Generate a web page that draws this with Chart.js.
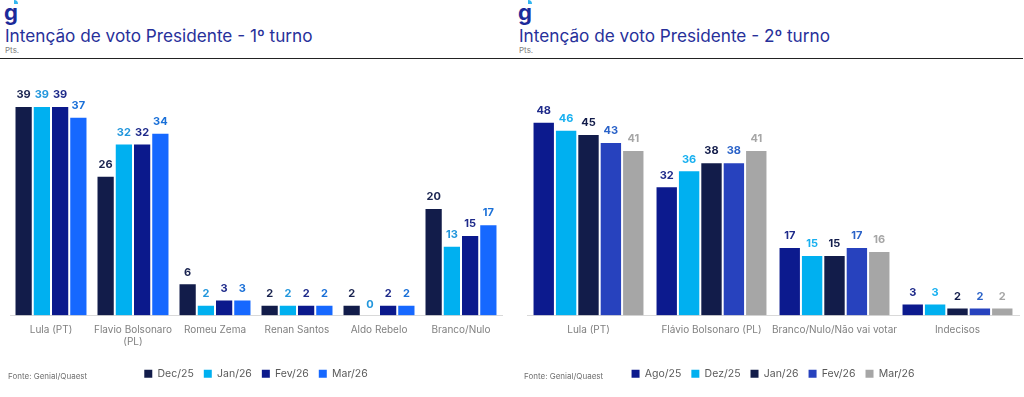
<!DOCTYPE html>
<html>
<head>
<meta charset="utf-8">
<script src="https://cdn.jsdelivr.net/npm/chart.js@4.4.1/dist/chart.umd.min.js"></script>
<style>
  body { margin: 0; width: 1024px; height: 397px; background: #fff; overflow: hidden; font-family: Inter, sans-serif; position: relative; }
  .logo { position: absolute; top: 1px; font: bold 22px Inter, sans-serif; color: #1b2a9a; line-height: 22px; }
  .logo::after { content: ''; position: absolute; left: 10px; top: -1px; width: 4px; height: 4px; background: #31b6f0; border-radius: 0 4px 0 0; }
  .title { position: absolute; top: 25px; font-size: 17.2px; color: #27309a; white-space: nowrap; }
  .sub { position: absolute; top: 45px; font-size: 8px; color: #808080; }
  .rule { position: absolute; left: 0; top: 58px; width: 1023px; height: 0; border-top: 1.5px solid #222; }
  .src { position: absolute; top: 371px; font-size: 8px; color: #707070; }
  .wrap { position: absolute; top: 60px; width: 512px; height: 337px; }
</style>
</head>
<body>
<div class="logo" style="left:4px">g</div>
<div class="logo" style="left:518px">g</div>
<div class="title" style="left:5px">Intenção de voto Presidente - 1º turno</div>
<div class="title" style="left:519px">Intenção de voto Presidente - 2º turno</div>
<div class="sub" style="left:5px">Pts.</div>
<div class="sub" style="left:519px">Pts.</div>
<div class="rule"></div>
<div class="wrap" style="left:0"><canvas id="turno1"></canvas></div>
<div class="wrap" style="left:512px"><canvas id="turno2"></canvas></div>
<div class="src" style="left:8px">Fonte: Genial/Quaest</div>
<div class="src" style="left:524px">Fonte: Genial/Quaest</div>
<script>
// 1º turno
const t1Categories = ['Lula (PT)', ['Flavio Bolsonaro', '(PL)'], 'Romeu Zema', 'Renan Santos', 'Aldo Rebelo', 'Branco/Nulo'];
const t1Months = ['Dec/25', 'Jan/26', 'Fev/26', 'Mar/26'];
const t1Dec25 = [39, 26, 6, 2, 2, 20];
const t1Jan26 = [39, 32, 2, 2, 0, 13];
const t1Fev26 = [39, 32, 3, 2, 2, 15];
const t1Mar26 = [37, 34, 3, 2, 2, 17];

// 2º turno (empty second line keeps the axis the same height as turno 1)
const t2Categories = [['Lula (PT)', ''], ['Flávio Bolsonaro (PL)', ''], ['Branco/Nulo/Não vai votar', ''], ['Indecisos', '']];
const t2Months = ['Ago/25', 'Dez/25', 'Jan/26', 'Fev/26', 'Mar/26'];
const t2Ago25 = [48, 32, 17, 3];
const t2Dez25 = [46, 36, 15, 3];
const t2Jan26 = [45, 38, 15, 2];
const t2Fev26 = [43, 38, 17, 2];
const t2Mar26 = [41, 41, 16, 2];

const barLabels = {
  id: 'barLabels',
  afterDatasetsDraw(chart) {
    const ctx = chart.ctx;
    ctx.save();
    ctx.font = 'bold 11px Inter, sans-serif';
    ctx.textAlign = 'center';
    ctx.textBaseline = 'middle';
    chart.data.datasets.forEach((ds, i) => {
      const meta = chart.getDatasetMeta(i);
      ctx.fillStyle = ds.labelColor;
      meta.data.forEach((bar, j) => {
        ctx.fillText(ds.data[j], bar.x, bar.y - 11);
      });
    });
    ctx.restore();
  },
};

function makeDataset(label, data, color, labelColor) {
  return {
    label,
    data,
    backgroundColor: color,
    borderColor: 'rgba(255,255,255,0.55)',
    borderWidth: 1,
    labelColor,
  };
}

function buildChart(id, categories, datasets, yMax, catPct, padLeft, padRight) {
  return new Chart(document.getElementById(id), {
    type: 'bar',
    data: { labels: categories, datasets },
    options: {
      responsive: true,
      maintainAspectRatio: false,
      animation: false,
      layout: { padding: { top: 19, left: padLeft, right: padRight, bottom: 8 } },
      datasets: { bar: { barPercentage: 1, categoryPercentage: catPct } },
      plugins: {
        tooltip: { enabled: false },
        legend: {
          position: 'bottom',
          labels: {
            color: '#595959',
            font: { family: 'Inter, sans-serif', size: 10.5 },
            boxWidth: 8,
            boxHeight: 8,
            padding: 10,
            generateLabels: (chart) => chart.data.datasets.map((ds, i) => ({
              text: ds.label,
              fillStyle: ds.backgroundColor,
              strokeStyle: ds.backgroundColor,
              lineWidth: 0,
              fontColor: '#595959',
              datasetIndex: i,
            })),
          },
        },
      },
      scales: {
        x: {
          grid: { display: false, drawTicks: false },
          border: { display: true, color: '#d9d9d9', width: 1 },
          ticks: { color: '#808080', font: { family: 'Inter, sans-serif', size: 10 }, padding: 8, maxRotation: 0, autoSkip: false },
          afterFit: (scale) => { scale.height += 3; },
        },
        y: { display: false, min: 0, max: yMax },
      },
    },
    plugins: [barLabels],
  });
}

buildChart('turno1', t1Categories, [
  makeDataset(t1Months[0], t1Dec25, '#121c4a', '#1a2450'),
  makeDataset(t1Months[1], t1Jan26, '#00b0f0', '#2196dc'),
  makeDataset(t1Months[2], t1Fev26, '#0b198c', '#1e2a8a'),
  makeDataset(t1Months[3], t1Mar26, '#1668ff', '#1a70d8'),
], 44, 0.89, 10, 10);

buildChart('turno2', t2Categories, [
  makeDataset(t2Months[0], t2Ago25, '#0c1a8e', '#1e2a8a'),
  makeDataset(t2Months[1], t2Dez25, '#00b0f0', '#18b0f0'),
  makeDataset(t2Months[2], t2Jan26, '#121c4a', '#121c4a'),
  makeDataset(t2Months[3], t2Fev26, '#2742be', '#2a62c8'),
  makeDataset(t2Months[4], t2Mar26, '#a6a6a6', '#a6a6a6'),
], 58.6, 0.91, 15, 5);
</script>
</body>
</html>
